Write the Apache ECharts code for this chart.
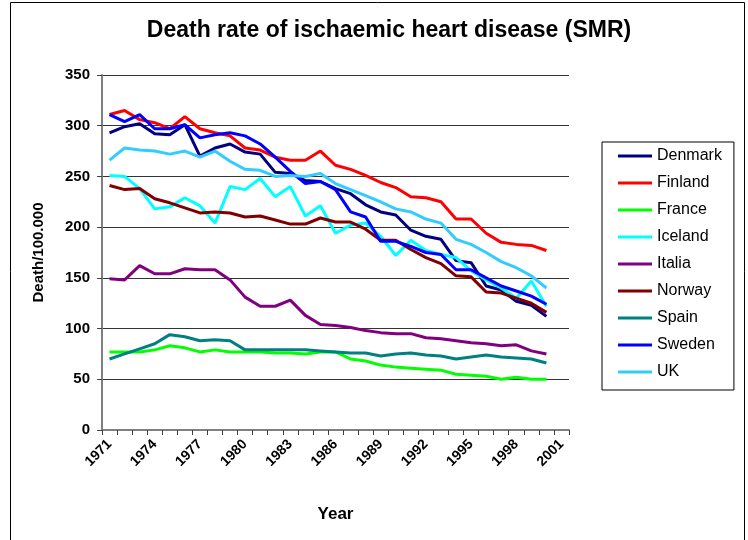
<!DOCTYPE html>
<html>
<head>
<meta charset="utf-8">
<script src="https://cdn.jsdelivr.net/npm/echarts@6/dist/echarts.min.js"></script>
<style>
  html, body { margin: 0; padding: 0; background: #fff; }
  #chart { width: 748px; height: 540px; }
</style>
</head>
<body>
<div id="chart"></div>
<script>
const years = ['1971', '1972', '1973', '1974', '1975', '1976', '1977', '1978', '1979', '1980',
    '1981', '1982', '1983', '1984', '1985', '1986', '1987', '1988', '1989', '1990',
    '1991', '1992', '1993', '1994', '1995', '1996', '1997', '1998', '1999', '2000', '2001'];

const denmark = [293, 299, 302, 292, 291, 301, 270, 278, 282, 274, 272, 254, 253, 246, 245,
    238, 233, 222, 215, 212, 197, 191, 188, 167, 165, 142, 138, 127, 123, 112];
const finland = [311, 315, 306, 303, 297, 309, 297, 293, 290, 278, 276, 269, 266, 266, 275,
    261, 257, 251, 244, 239, 230, 229, 225, 208, 208, 194, 185, 183, 182, 177];
const france = [77, 77, 77, 79, 83, 81, 77, 79, 77, 77, 77, 76, 76, 75, 77,
    77, 70, 68, 64, 62, 61, 60, 59, 55, 54, 53, 50, 52, 50, 50];
const iceland = [251, 250, 238, 218, 220, 229, 221, 204, 240, 237, 248, 230, 240, 211, 221,
    194, 202, 204, 191, 172, 187, 177, 173, 170, 157, 148, 140, 130, 147, 122];
const italia = [149, 148, 162, 154, 154, 159, 158, 158, 148, 131, 122, 122, 128, 113, 104,
    103, 101, 98, 96, 95, 95, 91, 90, 88, 86, 85, 83, 84, 78, 75];
const norway = [241, 237, 238, 228, 224, 219, 214, 215, 214, 210, 211, 207, 203, 203, 209,
    205, 205, 198, 187, 187, 178, 170, 164, 152, 151, 136, 135, 130, 125, 116];
const spain = [70, 75, 80, 85, 94, 92, 88, 89, 88, 79, 79, 79, 79, 79, 78,
    77, 76, 76, 73, 75, 76, 74, 73, 70, 72, 74, 72, 71, 70, 66];
const sweden = [311, 304, 311, 297, 297, 301, 288, 291, 293, 290, 282, 269, 255, 243, 245,
    237, 215, 210, 186, 186, 181, 175, 173, 158, 158, 150, 142, 137, 132, 124];
const uk = [266, 278, 276, 275, 272, 275, 269, 275, 265, 257, 256, 250, 251, 250, 253,
    243, 237, 231, 225, 218, 215, 208, 204, 188, 183, 175, 166, 160, 152, 140];

const countries = [
    { name: 'Denmark', data: denmark, color: '#000080' },
    { name: 'Finland', data: finland, color: '#FF0000' },
    { name: 'France', data: france, color: '#00FF00' },
    { name: 'Iceland', data: iceland, color: '#00FFFF' },
    { name: 'Italia', data: italia, color: '#800080' },
    { name: 'Norway', data: norway, color: '#800000' },
    { name: 'Spain', data: spain, color: '#008080' },
    { name: 'Sweden', data: sweden, color: '#0000FF' },
    { name: 'UK', data: uk, color: '#33CCFF' }
];

const font = 'Arial, "Liberation Sans", sans-serif';

const myChart = echarts.init(document.getElementById('chart'));

const option = {
    animation: false,
    textStyle: { fontFamily: font },
    title: {
        text: 'Death rate of ischaemic heart disease (SMR)',
        left: 384,
        textAlign: 'center',
        top: 14,
        textStyle: { fontFamily: font, fontSize: 23, fontWeight: 'bold', color: '#000' }
    },
    graphic: [{
        type: 'rect',
        shape: { x: 10.5, y: 2.5, width: 734, height: 560 },
        style: { fill: null, stroke: '#000', lineWidth: 1 },
        silent: true
    }],
    legend: {
        orient: 'vertical',
        left: 602,
        top: 142,
        padding: [5, 12, 9, 16],
        icon: 'rect',
        itemWidth: 34,
        itemHeight: 3,
        itemGap: 9,
        borderColor: '#000',
        borderWidth: 1,
        backgroundColor: '#fff',
        textStyle: { fontFamily: font, fontSize: 16, lineHeight: 18, color: '#000' },
        data: countries.map(c => c.name)
    },
    grid: {
        left: 102,
        right: 179,
        top: 75,
        bottom: 110
    },
    xAxis: {
        type: 'category',
        data: years,
        boundaryGap: true,
        name: 'Year',
        nameLocation: 'middle',
        nameGap: 76,
        nameTextStyle: { fontFamily: font, fontSize: 17, fontWeight: 'bold', color: '#000' },
        axisLine: { lineStyle: { color: '#808080', width: 2 } },
        axisTick: { show: true, interval: 0, length: 5, lineStyle: { color: '#404040' } },
        axisLabel: {
            interval: 2,
            rotate: 45,
            margin: 12,
            fontFamily: font,
            fontSize: 14,
            fontWeight: 'bold',
            color: '#000'
        },
        splitLine: { show: false }
    },
    yAxis: {
        type: 'value',
        min: 0,
        max: 350,
        interval: 50,
        name: 'Death/100.000',
        nameLocation: 'middle',
        nameGap: 56,
        nameTextStyle: { fontFamily: font, fontSize: 15, fontWeight: 'bold', color: '#000' },
        axisLine: { show: true, lineStyle: { color: '#808080', width: 2 } },
        axisTick: { show: true, length: 5, lineStyle: { color: '#404040' } },
        axisLabel: { fontFamily: font, fontSize: 15, fontWeight: 'bold', color: '#000', margin: 12 },
        splitLine: { show: true, lineStyle: { color: '#333', width: 1 } }
    },
    series: countries.map(c => ({
        name: c.name,
        type: 'line',
        data: c.data,
        symbol: 'none',
        color: c.color,
        lineStyle: { color: c.color, width: 3 }
    }))
};

myChart.setOption(option);
</script>
</body>
</html>
